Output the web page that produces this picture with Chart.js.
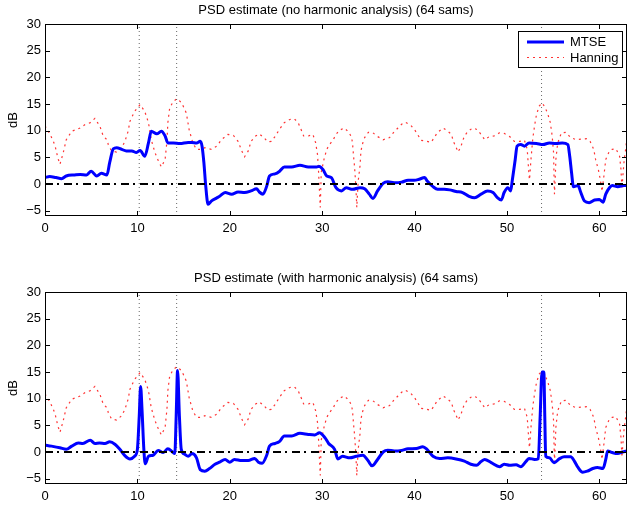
<!DOCTYPE html>
<html>
<head>
<meta charset="utf-8">
<script src="https://cdn.jsdelivr.net/npm/chart.js@4.4.0/dist/chart.umd.min.js"></script>
<style>
  body { margin: 0; background: #fff; }
  canvas { display: block; position: absolute; left: 0; }
</style>
</head>
<body>
<canvas id="topChart" width="628" height="253" style="top:0px"></canvas>
<canvas id="botChart" width="628" height="253" style="top:253px"></canvas>
<script>
// frequency axis (0..63) and sinusoid positions
var xMin = 0, xMax = 63;
var yMin = -6, yMax = 30;
var xTickStep = 10, yTickStep = 5;
var sineFreqs = [10.2, 14.25, 53.75];

// Hanning periodogram (same in both panels)
var hanX = [0, 0.55, 0.9, 1.1, 1.25, 1.45, 1.62, 1.98, 2.3, 2.9, 3.8, 4.3, 4.9, 5.4, 5.95, 6.3, 6.7, 6.85, 7.2, 7.75, 8.3, 8.65, 9.0, 9.2, 9.7, 10.3, 10.8, 11.2, 11.5, 11.9, 12.3, 12.6, 13.0, 13.2, 13.3, 13.5, 13.9, 14.3, 14.8, 15.3, 15.6, 16.0, 16.4, 17.0, 17.3, 18.0, 18.6, 19.1, 19.8, 20.4, 20.9, 21.3, 21.6, 22.0, 22.3, 22.8, 23.2, 23.8, 24.1, 24.5, 24.9, 25.4, 25.9, 26.5, 27.0, 27.4, 27.7, 28.0, 28.5, 29.0, 29.3, 29.5, 29.6, 29.7, 29.8, 29.9, 30.2, 30.5, 30.8, 31.2, 31.5, 31.9, 32.4, 32.9, 33.2, 33.3, 33.4, 33.5, 33.6, 33.7, 33.75, 33.9, 34.1, 34.2, 34.4, 34.6, 35.0, 35.5, 36.0, 36.6, 37.3, 37.7, 38.2, 38.6, 39.0, 39.6, 40.0, 40.4, 40.7, 41.3, 41.8, 42.2, 42.5, 43.1, 43.6, 44.0, 44.2, 44.5, 44.7, 45.0, 45.2, 45.4, 45.8, 46.3, 46.8, 47.2, 47.6, 48.1, 48.6, 49.2, 49.7, 50.3, 50.8, 51.4, 51.9, 52.2, 52.3, 52.4, 52.45, 52.6, 52.8, 53.0, 53.2, 53.5, 53.8, 54.05, 54.4, 54.7, 54.9, 55.05, 55.1, 55.15, 55.25, 55.3, 55.5, 55.9, 56.4, 56.9, 57.5, 58.0, 58.6, 59.0, 59.4, 59.6, 59.9, 60.1, 60.3, 60.5, 60.7, 61.1, 61.4, 61.8, 62.2, 62.35, 62.45, 62.55, 62.7, 62.9, 63];
var hanY = [10.9, 9.3, 8.0, 7.1, 5.9, 4.6, 3.7, 5.9, 8.3, 9.9, 10.5, 11.1, 11.5, 12.3, 10.8, 9.0, 8.3, 7.4, 6.2, 6.0, 6.8, 8.0, 9.9, 11.8, 13.6, 14.9, 13.6, 11.5, 8.3, 5.9, 4.2, 3.2, 4.6, 8.0, 11.5, 14.3, 15.5, 16.0, 15.2, 13.3, 10.2, 7.7, 6.5, 6.5, 6.8, 6.5, 7.1, 8.3, 9.3, 9.1, 8.0, 6.2, 5.1, 6.2, 8.0, 9.0, 9.4, 8.5, 7.9, 8.0, 8.9, 10.3, 11.5, 12.1, 12.2, 11.5, 10.3, 9.0, 9.0, 9.3, 7.7, 5.5, 2.7, -1.0, -4.4, 2.2, 4.6, 6.5, 7.4, 8.3, 9.3, 10.1, 10.5, 9.7, 8.7, 7.4, 5.2, 3.4, 0.9, -2.3, -4.4, 0.5, 3.4, 6.2, 7.7, 8.7, 9.7, 9.6, 8.9, 8.3, 8.7, 9.6, 10.5, 11.2, 11.6, 11.0, 10.2, 9.1, 8.2, 8.0, 7.8, 8.9, 9.7, 10.5, 9.9, 9.3, 8.0, 6.9, 6.0, 6.9, 8.0, 9.0, 9.9, 10.5, 10.2, 9.3, 8.3, 8.9, 9.0, 9.6, 9.5, 8.9, 8.0, 8.0, 8.2, 6.5, 4.0, 1.5, 0.8, 4.5, 8.5, 11.0, 13.0, 14.6, 15.2, 14.6, 13.3, 11.5, 9.0, 5.9, 1.5, -1.9, 2.0, 4.6, 7.7, 9.6, 9.7, 8.7, 8.3, 8.4, 8.5, 8.0, 6.5, 4.6, 2.7, 0.9, -1.4, 1.5, 4.6, 6.2, 6.5, 6.6, 5.2, 2.7, -1.0, 1.5, 4.6, 7.1, 9.5];

// MTSE, no harmonic analysis
var mtseTopX = [0, 0.5, 1.2, 1.8, 2.3, 3.2, 3.8, 4.5, 5.0, 5.6, 6.1, 6.7, 7.0, 7.4, 7.75, 8.3, 8.8, 9.4, 9.9, 10.3, 10.8, 11.2, 11.5, 12.1, 12.6, 13.0, 13.3, 13.9, 14.6, 15.5, 15.9, 16.4, 16.8, 17.0, 17.2, 17.4, 17.65, 18.0, 18.6, 18.9, 19.5, 20.2, 20.9, 21.6, 22.3, 22.9, 23.2, 23.6, 24.0, 24.3, 24.9, 25.4, 25.9, 26.7, 27.6, 28.5, 29.4, 29.7, 30.1, 30.5, 31.0, 31.5, 32.1, 32.6, 33.3, 34.1, 34.6, 35.1, 35.5, 36.0, 36.6, 37.1, 37.8, 38.6, 39.3, 40.0, 40.5, 41.1, 41.4, 42.0, 42.5, 43.2, 43.8, 44.5, 45.2, 45.9, 46.5, 47.2, 47.9, 48.5, 49.0, 49.4, 49.7, 50.1, 50.4, 50.6, 50.9, 51.1, 51.5, 51.9, 52.4, 53.2, 53.9, 54.6, 55.3, 56.0, 56.6, 56.8, 57.0, 57.2, 57.7, 58.0, 58.4, 58.9, 59.5, 60.0, 60.4, 60.7, 61.1, 61.4, 62.0, 62.7, 63];
var mtseTopY = [1.2, 1.4, 1.2, 1.0, 1.5, 1.7, 1.8, 1.7, 2.4, 1.5, 2.0, 1.7, 4.0, 6.6, 6.8, 6.5, 6.2, 6.2, 5.9, 6.3, 5.2, 7.7, 9.9, 9.4, 9.9, 9.0, 7.7, 7.7, 7.6, 7.8, 7.8, 7.7, 8.0, 7.1, 4.0, -0.4, -3.8, -3.2, -2.6, -2.3, -1.6, -1.9, -1.5, -1.6, -1.3, -0.9, -1.5, -1.9, -0.4, 1.5, 1.9, 2.4, 3.2, 3.2, 3.5, 3.2, 3.2, 3.3, 2.7, 1.5, 1.2, -0.7, -1.3, -0.7, -1.0, -0.7, -0.9, -1.9, -2.7, -1.3, 0.1, 0.4, 0.25, 0.35, 0.7, 0.7, 0.9, 1.2, 0.5, -0.5, -1.0, -1.0, -1.1, -1.4, -1.6, -2.3, -2.6, -1.9, -1.3, -1.6, -2.6, -3.0, -1.6, -0.7, -1.3, 0.9, 4.6, 7.1, 7.4, 7.1, 7.7, 7.6, 7.4, 7.7, 7.6, 7.7, 7.4, 5.2, 2.1, -0.5, -0.3, -1.6, -3.2, -3.5, -3.0, -2.9, -3.4, -1.9, -0.7, -0.3, -0.5, -0.3, -0.3];

// MTSE, with harmonic analysis
var mtseBotX = [0, 0.7, 1.6, 2.3, 2.9, 3.6, 4.1, 4.9, 5.4, 5.9, 6.5, 7.0, 7.6, 8.1, 8.6, 9.2, 9.7, 10.0, 10.2, 10.35, 10.5, 10.7, 10.85, 11.2, 11.7, 12.25, 12.8, 13.3, 13.8, 14.05, 14.2, 14.35, 14.55, 14.75, 15.1, 15.5, 15.9, 16.4, 16.8, 17.3, 17.8, 18.4, 18.9, 19.5, 20.0, 20.5, 21.3, 22.0, 22.7, 23.1, 23.5, 24.0, 24.3, 24.9, 25.4, 25.9, 26.7, 27.6, 28.5, 29.2, 29.7, 30.3, 30.7, 31.35, 31.7, 32.2, 33.0, 33.7, 34.4, 35.0, 35.4, 36.0, 36.6, 37.1, 37.8, 38.6, 39.3, 40.2, 40.9, 41.3, 42.0, 42.7, 43.6, 44.5, 45.4, 46.1, 46.7, 47.2, 47.6, 48.3, 49.2, 49.7, 50.3, 51.0, 51.5, 52.1, 52.4, 53.0, 53.4, 53.6, 53.8, 54.0, 54.1, 54.2, 54.6, 55.1, 55.7, 56.2, 56.9, 57.3, 57.7, 58.2, 58.7, 59.3, 59.8, 60.4, 60.7, 60.9, 61.4, 62.0, 62.5, 63];
var mtseBotY = [1.3, 1.1, 0.8, 0.5, 1.1, 1.7, 1.6, 2.2, 1.6, 1.7, 1.6, 1.9, 1.4, 0.5, -0.6, -1.3, -0.8, 0.5, 6.7, 12.3, 8.0, 0.5, -2.2, -0.8, -0.6, 0.3, -0.1, 0.6, 0.0, -0.3, 6.7, 15.3, 6.7, 0.5, -0.4, -0.8, -0.3, -1.1, -3.3, -3.6, -3.1, -2.3, -1.9, -1.4, -1.9, -1.4, -1.6, -1.6, -1.2, -1.9, -2.1, -0.6, 1.1, 1.6, 2.0, 3.0, 3.0, 3.5, 3.3, 3.2, 3.6, 2.7, 1.6, 0.5, -1.3, -0.8, -1.1, -0.8, -0.6, -1.7, -2.6, -1.4, 0.0, 0.35, 0.2, 0.3, 0.6, 0.65, 1.0, 0.6, -0.8, -1.2, -1.1, -1.3, -1.7, -2.3, -2.5, -1.8, -1.4, -2.0, -2.75, -2.3, -2.5, -2.4, -2.75, -1.7, -1.2, -1.4, -1.25, 6.7, 15.0, 15.0, 6.7, -0.8, -1.1, -2.0, -1.25, -0.9, -0.9, -1.7, -2.9, -3.8, -3.6, -3.1, -2.9, -3.1, -1.4, 0.2, -0.1, -0.3, 0.0, 0.2];

var FONT = '"Liberation Sans", Arial, Helvetica, sans-serif';

function pts(xs, ys) {
  return xs.map(function(x, i) { return { x: x, y: ys[i] }; });
}

function minusFmt(v) {
  return v < 0 ? '\u2212' + Math.abs(v) : '' + v;
}

// box, inward ticks, title and legend, the matlab way
var framePlugin = {
  id: 'frame',
  afterDraw: function(chart, args, opts) {
    var ctx = chart.ctx, a = chart.chartArea;
    var xs = chart.scales.x, ys = chart.scales.y;
    ctx.save();
    ctx.strokeStyle = '#000';
    ctx.lineWidth = 1;
    ctx.strokeRect(a.left + 0.5, a.top + 0.5, a.right - a.left - 1, a.bottom - a.top - 1);
    ctx.beginPath();
    xs.ticks.forEach(function(t) {
      var px = Math.round(xs.getPixelForValue(t.value)) + 0.5;
      ctx.moveTo(px, a.bottom); ctx.lineTo(px, a.bottom - 5);
      ctx.moveTo(px, a.top); ctx.lineTo(px, a.top + 5);
    });
    ys.ticks.forEach(function(t) {
      var py = Math.round(ys.getPixelForValue(t.value)) + 0.5;
      ctx.moveTo(a.left, py); ctx.lineTo(a.left + 5, py);
      ctx.moveTo(a.right, py); ctx.lineTo(a.right - 5, py);
    });
    ctx.stroke();

    ctx.fillStyle = '#000';
    ctx.font = '13px ' + FONT;
    ctx.textAlign = 'center';
    ctx.textBaseline = 'middle';
    ctx.fillText(opts.title, (a.left + a.right) / 2, a.top - 14);

    if (opts.legend) {
      var bx = a.right - 109, by = a.top + 7, bw = 104, bh = 36;
      ctx.fillStyle = '#fff';
      ctx.fillRect(bx, by, bw, bh);
      ctx.strokeRect(bx + 0.5, by + 0.5, bw, bh);
      ctx.beginPath();
      ctx.strokeStyle = '#0000ff';
      ctx.lineWidth = 3;
      ctx.moveTo(bx + 9, by + 11); ctx.lineTo(bx + 46, by + 11);
      ctx.stroke();
      ctx.beginPath();
      ctx.strokeStyle = 'rgba(255,0,0,0.8)';
      ctx.lineWidth = 1.2;
      ctx.setLineDash([2, 4]);
      ctx.moveTo(bx + 9, by + 26.5); ctx.lineTo(bx + 46, by + 26.5);
      ctx.stroke();
      ctx.setLineDash([]);
      ctx.fillStyle = '#000';
      ctx.font = '13px ' + FONT;
      ctx.textAlign = 'left';
      ctx.fillText('MTSE', bx + 52, by + 11);
      ctx.fillText('Hanning', bx + 52, by + 27);
    }
    ctx.restore();
  }
};

function makeChart(id, mX, mY, title, legend, padTop, xAxisH) {
  var datasets = [
    {
      label: 'zero', data: [{ x: xMin, y: 0 }, { x: xMax, y: 0 }],
      borderColor: '#000', borderWidth: 2, borderDash: [8, 4, 2, 5],
      pointRadius: 0, order: 0
    },
    {
      label: 'MTSE', data: pts(mX, mY),
      borderColor: '#0000ff', borderWidth: 3, cubicInterpolationMode: 'monotone',
      pointRadius: 0, order: 1
    },
    {
      label: 'Hanning', data: pts(hanX, hanY),
      borderColor: 'rgba(255,0,0,0.8)', borderWidth: 1.2, borderDash: [2, 4],
      pointRadius: 0, order: 3
    }
  ];
  sineFreqs.forEach(function(f) {
    datasets.push({
      label: 'f' + f, data: [{ x: f, y: yMin }, { x: f, y: yMax }],
      borderColor: 'rgba(0,0,0,0.6)', borderWidth: 1, borderDash: [1, 3],
      pointRadius: 0, order: 2
    });
  });

  return new Chart(document.getElementById(id), {
    type: 'line',
    data: { datasets: datasets },
    plugins: [framePlugin],
    options: {
      responsive: false,
      animation: false,
      devicePixelRatio: 1,
      layout: { padding: { top: padTop, right: 1, left: 0, bottom: 0 } },
      plugins: {
        legend: { display: false },
        tooltip: { enabled: false },
        frame: { title: title, legend: legend }
      },
      scales: {
        x: {
          type: 'linear', min: xMin, max: xMax,
          grid: { display: false, drawTicks: false },
          border: { display: false },
          ticks: { stepSize: xTickStep, includeBounds: false, padding: 5, maxRotation: 0,
                   color: '#000', font: { family: FONT, size: 13 }, callback: minusFmt },
          afterFit: function(s) { s.height = xAxisH; }
        },
        y: {
          min: yMin, max: yMax,
          grid: { display: false, drawTicks: false },
          border: { display: false },
          ticks: { stepSize: yTickStep, includeBounds: false, padding: 4,
                   color: '#000', font: { family: FONT, size: 13 }, callback: minusFmt },
          title: { display: true, text: 'dB', color: '#000', font: { family: FONT, size: 13 }, padding: { top: 6, bottom: 0 } },
          afterFit: function(s) { s.width = 45; }
        }
      }
    }
  });
}

makeChart('topChart', mtseTopX, mtseTopY, 'PSD estimate (no harmonic analysis) (64 sams)', true, 24, 37);
makeChart('botChart', mtseBotX, mtseBotY, 'PSD estimate (with harmonic analysis) (64 sams)', false, 39, 22);
</script>
</body>
</html>
